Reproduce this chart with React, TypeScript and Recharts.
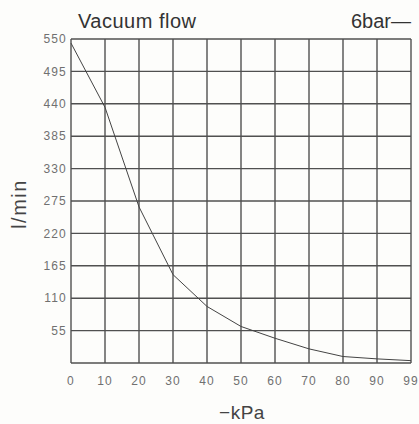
import React from 'react'
import { LineChart, Line, XAxis, YAxis, CartesianGrid } from 'recharts'

// -kPa labels; the chart spaces them evenly, 99 included
const kpaLabels = ['0', '10', '20', '30', '40', '50', '60', '70', '80', '90', '99']
// flow at 6bar, l/min
const flow6bar = [543, 434, 265, 150, 96, 62, 42, 24, 11, 7, 4]
const yTicks = [0, 55, 110, 165, 220, 275, 330, 385, 440, 495, 550]

const FONT = '"Liberation Sans", Arial, Helvetica, sans-serif'

const chartData = kpaLabels.map((label, i) => ({ idx: i, label, flow: flow6bar[i] }))

export default function App() {
  const tickStyle = { fontSize: 12, fill: '#707070', fontFamily: FONT, letterSpacing: 1.2 }

  return (
    <div style={{ position: 'absolute', left: 0, top: 0, width: 419, height: 424, background: '#fdfdfb', fontFamily: FONT }}>
      <LineChart width={419} height={424} data={chartData} margin={{ top: 39, right: 8, bottom: 0, left: 0 }}>
        <CartesianGrid stroke="#505050" strokeWidth={1.4} />
        <XAxis
          dataKey="idx"
          type="number"
          domain={[0, 10]}
          ticks={chartData.map(d => d.idx)}
          tickFormatter={(v) => kpaLabels[v] ?? ''}
          axisLine={false}
          tickLine={false}
          tickSize={0}
          tickMargin={13}
          height={61}
          tick={tickStyle}
        />
        <YAxis
          type="number"
          domain={[0, 550]}
          ticks={yTicks}
          tickFormatter={(v) => (v === 0 ? '' : String(v))}
          axisLine={false}
          tickLine={false}
          tickSize={0}
          tickMargin={4}
          width={71}
          tick={tickStyle}
        />
        <Line
          type="linear"
          dataKey="flow"
          stroke="#444"
          strokeWidth={1}
          dot={false}
          isAnimationActive={false}
        />
      </LineChart>

      <div style={{ position: 'absolute', left: 78, top: 7, fontSize: 20, letterSpacing: 0.5, color: '#333', lineHeight: '28px' }}>
        Vacuum flow
      </div>
      <div style={{ position: 'absolute', right: 8, top: 7, fontSize: 20, color: '#333', lineHeight: '28px' }}>
        6bar—
      </div>
      <div style={{ position: 'absolute', left: 242, top: 413, transform: 'translate(-50%, -50%)', fontSize: 19, letterSpacing: 0.5, color: '#444', whiteSpace: 'nowrap' }}>
        −kPa
      </div>
      <div style={{ position: 'absolute', left: 19, top: 204, transform: 'translate(-50%, -50%) rotate(-90deg)', fontSize: 20, letterSpacing: 1.5, color: '#444', whiteSpace: 'nowrap' }}>
        l/min
      </div>
    </div>
  )
}
